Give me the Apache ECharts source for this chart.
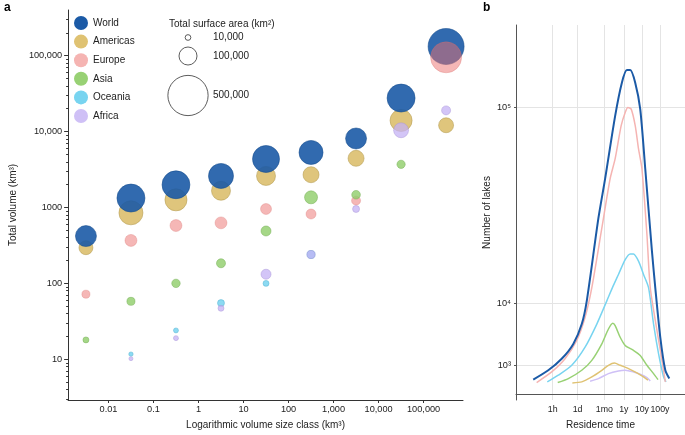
<!DOCTYPE html>
<html>
<head>
<meta charset="utf-8">
<script src="https://cdn.jsdelivr.net/npm/echarts@6/dist/echarts.min.js"></script>
<style>
html, body { margin: 0; padding: 0; background: #fff; }
#chart { width: 685px; height: 435px; }
</style>
</head>
<body>
<div id="chart"></div>
<script>
// ---- panel a: volume per size class (km3) and surface area (km2) ----
var sizeClasses = [0.00316, 0.0316, 0.316, 3.16, 31.6, 316, 3160, 31600, 316000];
var sizeTicks = [0.01, 0.1, 1, 10, 100, 1000, 10000, 100000];
var volumeTicks = [10, 100, 1000, 10000, 100000];

var worldVolume    = [420, 1330, 1990, 2600, 4350, 5300, 8100, 27600, 132000];
var americasVolume = [295, 850, 1260, 1660, 2600, 2700, 4440, 14000, 12100];
var europeVolume   = [72, 368, 578, 627, 955, 820, 1230, null, 95000];
var asiaVolume     = [18, 58, 100, 184, 490, 1360, 1470, 3700, null];
var oceaniaVolume  = [null, 11.7, 24, 55, 100, 240, null, null, null];
var africaVolume   = [null, 10.2, 19, 47, 132, 240, 955, 10400, 19000];

var worldArea    = [136000, 242000, 240000, 193000, 225000, 178000, 136000, 242000, 400000];
var americasArea = [60000, 178000, 150000, 111000, 111000, 79000, 79000, 150000, 69000];
var europeArea   = [20000, 44000, 44000, 44000, 37000, 31000, 25000, null, 297000];
var asiaArea     = [11000, 20000, 22000, 25000, 31000, 52000, 23000, 21000, null];
var oceaniaArea  = [null, 6000, 7700, 15000, 11000, 20000, null, null, null];
var africaArea   = [null, 5000, 7700, 11000, 31000, 20000, 15000, 69000, 25000];

var areaLegend = [10000, 100000, 500000];

// ---- panel b: number of lakes vs residence time (hours) ----
var timeTicks = [1, 24, 730, 8766, 87660, 876600];
var timeTickLabels = ['1h', '1d', '1mo', '1y', '10y', '100y'];
var lakeTicks = [1000, 10000, 100000];

var worldLakes = [[0.0836, 265], [0.570, 703], [3.16, 1536], [13.9, 3089], [40.8, 5990], [77.4, 10600],
  [341, 37600], [805, 56400], [2891, 94000], [6808, 117700], [12910, 127400], [19680, 127400],
  [37330, 117700], [70790, 98600], [134300, 61700], [316200, 24800], [482000, 13800],
  [914100, 3950], [1734000, 703], [2891000, 302]];
var europeLakes = [[0.129, 169], [0.879, 609], [4.82, 1536], [21.5, 3510], [62.2, 7180], [147, 13800],
  [527, 33470], [1524, 56400], [2891, 67300], [6223, 87500], [10400, 96300], [14690, 99700],
  [22390, 98600], [37330, 87500], [57020, 73000], [87900, 61700], [166700, 30900], [254700, 13800],
  [599800, 4930], [1137000, 1400], [1734000, 189]];
var oceaniaLakes = [[0.501, 189], [2.05, 444], [11.4, 1023], [62.2, 2700], [278, 5990], [1000, 10600],
  [2046, 13800], [4406, 17420], [10400, 22000], [19680, 23900], [30060, 23900], [57020, 21500],
  [107900, 17420], [204600, 13800], [388200, 5990], [736200, 1990], [1393000, 369], [1897000, 189]];
var asiaLakes = [[1.90, 169], [7.36, 302], [40.8, 703], [147, 1400], [527, 3090], [1227, 5175],
  [2153, 6110], [2891, 5720], [5483, 3950], [10400, 2900], [30060, 2340], [70790, 1840],
  [166700, 1023], [388200, 520], [680800, 265]];
var americasLakes = [[12.3, 160], [40.8, 189], [147, 369], [527, 703], [1227, 1023], [2642, 1190],
  [5483, 1023], [15850, 800], [46450, 556], [107900, 369], [189700, 244]];
var africaLakes = [[118, 211], [341, 302], [1227, 520], [4406, 664], [10400, 703], [30060, 609],
  [70790, 491], [166700, 340], [254700, 220]];

var FONT = 'Liberation Sans, Arial, sans-serif';
var regions = ['World', 'Americas', 'Europe', 'Asia', 'Oceania', 'Africa'];
var colors = {
  World: '#1b5aa6', Americas: '#dcbf6e', Europe: '#ec6f6d',
  Asia: '#8fcd69', Oceania: '#66cdee', Africa: '#c4b2f4'
};
var borders = {
  World: '#124a8c', Americas: '#b39a50', Europe: '#d66a68',
  Asia: '#72ad52', Oceania: '#4aaecd', Africa: '#a793d6'
};
// colours as they appear on white, for legend swatches and lines
var lineColors = {
  World: '#1b5aa6', Americas: '#dfc272', Europe: '#f5b4b2',
  Asia: '#98d174', Oceania: '#78d4f0', Africa: '#cfc0f6'
};

function bubbleSize(area) {
  return 18 * Math.sqrt(area / 100000);
}

function bubbles(volumes, areas) {
  var out = [];
  sizeClasses.forEach(function (x, i) {
    if (volumes[i] != null) out.push([x, volumes[i], areas[i]]);
  });
  return out;
}

function scatterSeries(name, volumes, areas, opacity) {
  return {
    name: name,
    type: 'scatter',
    xAxisIndex: 0,
    yAxisIndex: 0,
    data: bubbles(volumes, areas),
    symbolSize: function (v) { return bubbleSize(v[2]); },
    itemStyle: { color: colors[name], opacity: opacity, borderColor: borders[name], borderWidth: 0.6 }
  };
}

function lineSeries(name, points, width) {
  return {
    name: name + ' lakes',
    type: 'line',
    xAxisIndex: 1,
    yAxisIndex: 1,
    showSymbol: false,
    smooth: 0.25,
    data: points.map(function (p) { return [p[0], Math.sqrt(p[1])]; }),
    lineStyle: { color: lineColors[name], width: width },
    itemStyle: { color: lineColors[name] },
    z: name === 'World' ? 5 : 3
  };
}

function thousands(v) {
  return v < 1 ? String(v) : String(v).replace(/\B(?=(\d{3})+(?!\d))/g, ',');
}

var sup = { '3': '³', '4': '⁴', '5': '⁵' };

var myChart = echarts.init(document.getElementById('chart'));

var graphicItems = [
  { type: 'text', x: 4, y: 2, style: { text: 'a', font: 'bold 12px ' + FONT, fill: '#000' } },
  { type: 'text', x: 483, y: 2, style: { text: 'b', font: 'bold 12px ' + FONT, fill: '#000' } },
  { type: 'text', x: 169, y: 24, style: { text: 'Total surface area (km²)', font: '10px ' + FONT, fill: '#222', verticalAlign: 'middle' } }
];
var legendY = [37.5, 56, 95.5];
areaLegend.forEach(function (a, i) {
  graphicItems.push({ type: 'circle', shape: { cx: 188, cy: legendY[i], r: bubbleSize(a) / 2 },
    style: { fill: '#fff', stroke: '#333', lineWidth: 0.8 } });
  graphicItems.push({ type: 'text', x: 213, y: legendY[i],
    style: { text: thousands(a), font: '10px ' + FONT, fill: '#222', verticalAlign: 'middle' } });
});

var option = {
  animation: false,
  textStyle: { fontFamily: FONT },
  graphic: graphicItems,
  legend: {
    data: regions.map(function (r) {
      return { name: r, itemStyle: { color: lineColors[r], borderWidth: 0, opacity: 1 } };
    }),
    orient: 'vertical',
    left: 69,
    top: 11,
    itemWidth: 14,
    itemHeight: 14,
    itemGap: 4.6,
    icon: 'circle',
    textStyle: { fontSize: 10, color: '#222', fontFamily: FONT },
    selectedMode: false
  },
  grid: [
    { left: 62, top: 10, width: 401, height: 393 },
    { left: 516, top: 25, right: 0, height: 378 }
  ],
  xAxis: [
    {
      type: 'log', gridIndex: 0, min: 0.00127, max: 750000,
      name: 'Logarithmic volume size class (km³)', nameLocation: 'middle', nameGap: 20,
      nameTextStyle: { fontSize: 10, color: '#222' },
      axisLine: { lineStyle: { color: '#333', width: 1 } },
      axisTick: { show: true, length: 3, customValues: sizeTicks, lineStyle: { color: '#333' } },
      axisLabel: { customValues: sizeTicks, fontSize: 9.2, color: '#222', margin: 5, formatter: thousands },
      splitLine: { show: false }
    },
    {
      type: 'log', gridIndex: 1, min: 0.00927, max: 21400000,
      name: 'Residence time', nameLocation: 'middle', nameGap: 20,
      nameTextStyle: { fontSize: 10, color: '#222' },
      axisLine: { lineStyle: { color: '#555', width: 1 } },
      axisTick: { show: false, customValues: timeTicks },
      axisLabel: {
        customValues: timeTicks, fontSize: 8.8, color: '#222', margin: 5,
        formatter: function (v) {
          var i = timeTicks.indexOf(v);
          return i >= 0 ? timeTickLabels[i] : '';
        }
      },
      splitLine: { show: true, lineStyle: { color: '#e4e4e4', width: 1 } }
    }
  ],
  yAxis: [
    {
      type: 'log', gridIndex: 0, min: 2.91, max: 399000,
      name: 'Total volume (km³)', nameLocation: 'middle', nameGap: 47,
      nameTextStyle: { fontSize: 10, color: '#222' },
      axisLine: { show: true, lineStyle: { color: '#333', width: 1 } },
      axisTick: { show: true, length: 4, customValues: volumeTicks, lineStyle: { color: '#333' } },
      minorTick: { show: true, splitNumber: 9, length: 2, lineStyle: { color: '#333' } },
      axisLabel: { customValues: volumeTicks, fontSize: 9.2, color: '#222', margin: 6,
        formatter: function (v) { return v === 1000 ? '1000' : thousands(v); } },
      splitLine: { show: false }
    },
    {
      type: 'value', gridIndex: 1, min: -6.2, max: 406.6,
      name: 'Number of lakes', nameLocation: 'middle', nameGap: 24,
      nameTextStyle: { fontSize: 10, color: '#222' },
      axisLine: { show: true, lineStyle: { color: '#555', width: 1 } },
      axisTick: { show: true, length: 2, customValues: lakeTicks.map(Math.sqrt), lineStyle: { color: '#555' } },
      axisLabel: {
        customValues: lakeTicks.map(Math.sqrt), fontSize: 9.2, color: '#222', margin: 5,
        formatter: function (v) {
          var e = Math.round(Math.log10(v * v));
          return '10' + sup[e];
        }
      },
      splitLine: { show: true, lineStyle: { color: '#e4e4e4', width: 1 } }
    }
  ],
  series: [
    scatterSeries('Americas', americasVolume, americasArea, 0.9),
    scatterSeries('World', worldVolume, worldArea, 0.9),
    scatterSeries('Europe', europeVolume, europeArea, 0.5),
    scatterSeries('Asia', asiaVolume, asiaArea, 0.8),
    scatterSeries('Oceania', oceaniaVolume, oceaniaArea, 0.75),
    scatterSeries('Africa', africaVolume, africaArea, 0.75),
    lineSeries('Africa', africaLakes, 1.5),
    lineSeries('Americas', americasLakes, 1.5),
    lineSeries('Asia', asiaLakes, 1.5),
    lineSeries('Oceania', oceaniaLakes, 1.5),
    lineSeries('Europe', europeLakes, 1.5),
    lineSeries('World', worldLakes, 2)
  ]
};

myChart.setOption(option);
window.addEventListener('resize', function () {
  myChart.resize();
});
</script>
</body>
</html>
